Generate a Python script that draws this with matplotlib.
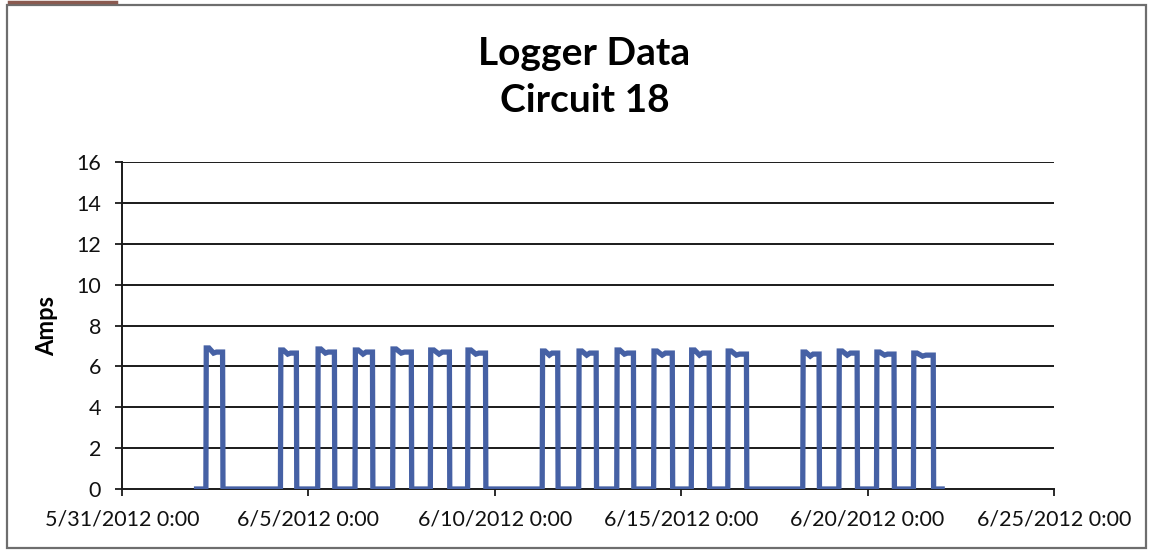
import matplotlib
matplotlib.use("Agg")
import matplotlib.pyplot as plt
import numpy as np
import pandas as pd
from matplotlib.patches import Rectangle
from matplotlib.lines import Line2D

# ---------------- data ----------------
title_lines = ["Logger Data", "Circuit 18"]
y_label = "Amps"
x_start = "2012-05-31 00:00"
x_end = "2012-06-25 00:00"
x_tick_dates = ["2012-05-31", "2012-06-05", "2012-06-10", "2012-06-15", "2012-06-20", "2012-06-25"]
x_tick_labels = ["5/31/2012 0:00", "6/5/2012 0:00", "6/10/2012 0:00",
                 "6/15/2012 0:00", "6/20/2012 0:00", "6/25/2012 0:00"]
y_ticks = [0, 2, 4, 6, 8, 10, 12, 14, 16]

record_start = "2012-06-02 00:00"
record_end = "2012-06-22 00:00"

pulse_on = ["2012-06-02 06:00", "2012-06-04 06:00", "2012-06-05 06:00", "2012-06-06 06:00",
            "2012-06-07 06:15", "2012-06-08 06:30", "2012-06-09 06:30",
            "2012-06-11 06:30", "2012-06-12 06:00", "2012-06-13 06:30", "2012-06-14 06:15",
            "2012-06-15 06:30", "2012-06-16 06:00",
            "2012-06-18 06:15", "2012-06-19 05:30", "2012-06-20 05:45", "2012-06-21 05:30"]
pulse_off = ["2012-06-02 17:00", "2012-06-04 16:30", "2012-06-05 17:00", "2012-06-06 17:30",
             "2012-06-07 18:30", "2012-06-08 19:00", "2012-06-09 18:15",
             "2012-06-11 16:45", "2012-06-12 17:30", "2012-06-13 17:30", "2012-06-14 18:30",
             "2012-06-15 18:15", "2012-06-16 18:15",
             "2012-06-18 17:00", "2012-06-19 17:30", "2012-06-20 17:15", "2012-06-21 18:30"]
amp_peak = [6.9, 6.8, 6.85, 6.8, 6.85, 6.8, 6.8, 6.75, 6.75, 6.8, 6.75, 6.8, 6.75,
            6.7, 6.75, 6.7, 6.65]
amp_dip = [6.65, 6.6, 6.65, 6.6, 6.65, 6.6, 6.6, 6.55, 6.55, 6.6, 6.55, 6.55, 6.55,
           6.5, 6.55, 6.55, 6.5]
amp_end = [6.7, 6.65, 6.7, 6.7, 6.7, 6.7, 6.65, 6.65, 6.65, 6.65, 6.65, 6.65, 6.6,
           6.6, 6.65, 6.6, 6.55]

# ---------------- build series ----------------
times = [pd.Timestamp(record_start)]
amps = [0.0]
for on, off, pk, dp, en in zip(pulse_on, pulse_off, amp_peak, amp_dip, amp_end):
    t_on = pd.Timestamp(on)
    t_off = pd.Timestamp(off)
    dur = t_off - t_on
    times += [t_on, t_on + pd.Timedelta(minutes=15), t_on + dur * 0.18,
              t_on + dur * 0.45, t_on + dur * 0.62, t_off - pd.Timedelta(minutes=15),
              t_off]
    amps += [0.0, pk, pk, dp, en, en, 0.0]
times.append(pd.Timestamp(record_end))
amps.append(0.0)

# ---------------- figure ----------------
W, H = 1151, 551
fig = plt.figure(figsize=(W / 100, H / 100), dpi=100)
fig.patch.set_facecolor("white")

# outer chart border
fig.add_artist(Rectangle((7 / W, 1 - 548 / H), (1146 - 7) / W, (548 - 5) / H,
                         transform=fig.transFigure, fill=False,
                         edgecolor="#6e6e6e", linewidth=1.6))
fig.add_artist(Line2D([9 / W, 116 / W], [1 - 1.5 / H, 1 - 1.5 / H],
                      transform=fig.transFigure, color="#8a5a50", linewidth=2.5))

left, right, top, bottom = 122, 1054, 162, 489
ax = fig.add_axes([left / W, 1 - bottom / H, (right - left) / W, (bottom - top) / H])

font = "Lato"
ax.plot(times, amps, color="#4661A5", linewidth=3.8, solid_joinstyle="miter", zorder=3)

ax.set_xlim(pd.Timestamp(x_start), pd.Timestamp(x_end))
ax.set_ylim(0, 16)
ax.set_yticks(y_ticks)
ax.set_yticklabels([str(v) for v in y_ticks], fontfamily=font, fontsize=15.5,
                   color="#111111")
ax.set_xticks([pd.Timestamp(d) for d in x_tick_dates])
ax.set_xticklabels(x_tick_labels, fontfamily=font, fontsize=15.5, color="#111111")

for v in y_ticks[1:]:
    ax.axhline(v, color="#1a1a1a", linewidth=1.4, zorder=1)

for s in ["top", "right"]:
    ax.spines[s].set_visible(False)
ax.spines["left"].set_color("#1a1a1a")
ax.spines["bottom"].set_color("#1a1a1a")
ax.spines["left"].set_linewidth(1.4)
ax.spines["bottom"].set_linewidth(1.4)
ax.tick_params(axis="both", direction="out", length=5, width=1.3, color="#1a1a1a")
ax.tick_params(axis="x", pad=10)
ax.tick_params(axis="y", pad=10)

ax.set_ylabel(y_label, fontfamily=font, fontweight="bold", fontsize=17, labelpad=12)
ax.yaxis.set_label_coords(-0.068, 0.5)

fig.text(584 / W, 1 - 65 / H, title_lines[0], ha="center", va="baseline",
         fontfamily=font, fontweight="bold", fontsize=28)
fig.text(585 / W, 1 - 112 / H, title_lines[1], ha="center", va="baseline",
         fontfamily=font, fontweight="bold", fontsize=28)

fig.savefig("out.png", dpi=100)
